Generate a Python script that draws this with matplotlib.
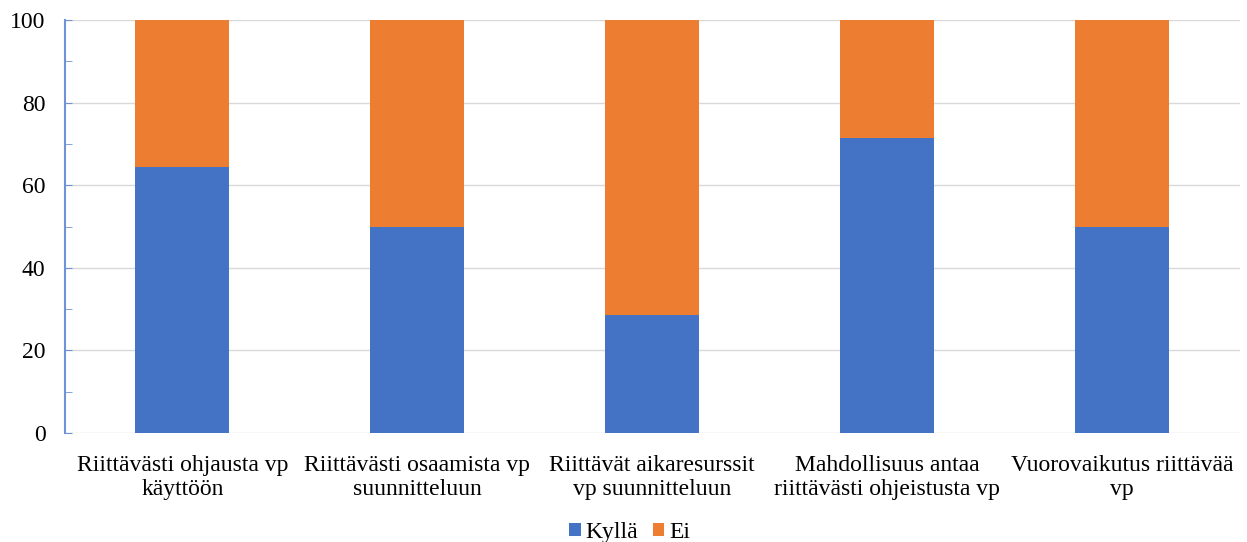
import matplotlib.pyplot as plt
from matplotlib.ticker import MultipleLocator

categories = ['Riittävästi ohjausta vp\nkäyttöön', 'Riittävästi osaamista vp\nsuunnitteluun',
              'Riittävät aikaresurssit\nvp suunnitteluun', 'Mahdollisuus antaa\nriittävästi ohjeistusta vp',
              'Vuorovaikutus riittävää\nvp']
kylla = [64.3, 50.0, 28.6, 71.4, 50.0]
ei = [35.7, 50.0, 71.4, 28.6, 50.0]

plt.rcParams['font.family'] = 'Liberation Serif'
fig = plt.figure(figsize=(12.47, 5.42), dpi=100)
ax = fig.add_axes([0.052, 0.201, 0.942, 0.762])

x = range(len(categories))
ax.bar(x, kylla, width=0.4, color='#4472C4', label='Kyllä', zorder=3)
ax.bar(x, ei, width=0.4, bottom=kylla, color='#ED7D31', label='Ei', zorder=3)

ax.set_ylim(0, 100)
ax.set_xlim(-0.5, len(categories) - 0.5)
ax.yaxis.set_major_locator(MultipleLocator(20))
ax.yaxis.set_minor_locator(MultipleLocator(10))
ax.grid(axis='y', color='#D9D9D9', linewidth=1, zorder=0)
for s in ['top', 'right', 'bottom']:
	ax.spines[s].set_visible(False)
ax.spines['left'].set_color('#6F93D6')
ax.spines['left'].set_linewidth(1.5)
ax.tick_params(axis='y', which='both', direction='in', color='#6F93D6', labelsize=17, length=5, pad=14)
ax.tick_params(axis='x', length=0, labelsize=17, pad=16)
ax.set_xticks(list(x))
ax.set_xticklabels(categories, linespacing=1.2)

fig.legend(*ax.get_legend_handles_labels(), loc='center', bbox_to_anchor=(0.505, 0.018), ncol=2,
           frameon=False, fontsize=17, handlelength=0.5, handleheight=0.5, handletextpad=0.2,
           columnspacing=0.6)
fig.savefig('out.png')
